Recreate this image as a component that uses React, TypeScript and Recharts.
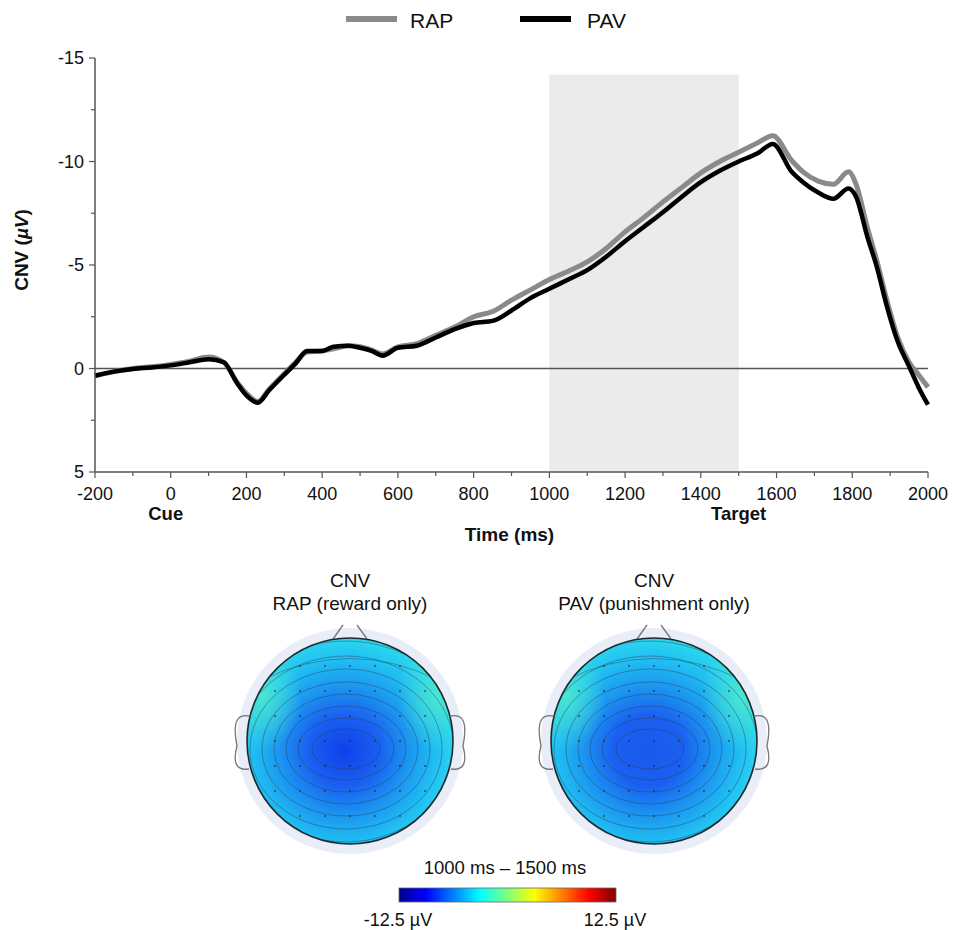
import { LineChart, Line, XAxis, YAxis, ReferenceArea, ReferenceLine } from "recharts"

// Grand-average CNV waveforms (µV), negative up
const timeMs = [
  -200, -150, -100, -50, 0, 50, 100, 140, 175, 200, 230, 260, 300, 330, 360, 400, 430, 470, 500, 530, 560, 600,
  650, 700, 750, 800, 850, 900, 950, 1000, 1050, 1100, 1150, 1200, 1250, 1300, 1350, 1400, 1450, 1500, 1550,
  1590, 1640, 1670, 1710, 1750, 1790, 1810, 1840, 1865, 1890, 1920, 1950, 1975, 2000,
]
const rapValues = [
  0.35, 0.15, 0.0, -0.08, -0.2, -0.35, -0.55, -0.3, 0.65, 1.2, 1.6, 1.0, 0.25, -0.3, -0.8, -0.85, -0.95, -1.1,
  -1.05, -0.9, -0.7, -1.05, -1.2, -1.6, -2.0, -2.5, -2.75, -3.3, -3.8, -4.3, -4.7, -5.15, -5.8, -6.6, -7.3,
  -8.05, -8.75, -9.45, -10.0, -10.45, -10.9, -11.25, -10.05, -9.5, -9.05, -8.9, -9.5, -8.9, -6.8, -5.2, -3.4,
  -1.5, -0.3, 0.3, 0.9,
]
const pavValues = [
  0.35, 0.15, 0.02, -0.05, -0.15, -0.3, -0.45, -0.3, 0.7, 1.3, 1.65, 1.05, 0.3, -0.25, -0.85, -0.85, -1.05,
  -1.1, -1.0, -0.85, -0.62, -1.0, -1.1, -1.5, -1.9, -2.2, -2.3, -2.8, -3.4, -3.85, -4.3, -4.75, -5.4, -6.15,
  -6.85, -7.55, -8.3, -9.0, -9.55, -10.0, -10.4, -10.85, -9.5, -9.0, -8.5, -8.2, -8.7, -8.3, -6.35, -4.9, -3.1,
  -1.3, -0.1, 0.9, 1.75,
]

const seriesKeys = ["rap", "pav"]
const seriesNames = ["RAP", "PAV"]
const seriesColors = ["#8a8a8a", "#000000"]

const xTicks = [
  -200, -100, 0, 100, 200, 300, 400, 500, 600, 700, 800, 900, 1000, 1100, 1200, 1300, 1400, 1500, 1600, 1700,
  1800, 1900, 2000,
]
const yTicks = [-15, -12.5, -10, -7.5, -5, -2.5, 0, 2.5, 5]
const eventTimes = [0, 1500]
const eventNames = ["Cue", "Target"]

// analysis window used for the maps
const windowStart = 1000
const windowEnd = 1500

const topoTitles = ["RAP (reward only)", "PAV (punishment only)"]
const colorbarLabels = ["-12.5 µV", "12.5 µV"]

const FONT = '"Liberation Sans", Arial, Helvetica, sans-serif'
const AXIS = "#555"

const data = timeMs.map((t, i) => ({ t, rap: rapValues[i], pav: pavValues[i] }))

function XTick({ x, y, payload }: any) {
  const v = payload.value
  const major = v % 200 === 0
  const ev = eventTimes.indexOf(v)
  return (
    <g>
      <line x1={x} x2={x} y1={y} y2={y + (major ? 6 : 4)} stroke={AXIS} strokeWidth={1.2} />
      {major && (
        <text x={x} y={y + 28} textAnchor="middle" fontSize={18} fontFamily={FONT} fill="#111">
          {v}
        </text>
      )}
      {ev >= 0 && (
        <text x={x + (ev === 0 ? -5 : 0)} y={y + 48} textAnchor="middle" fontSize={18.5} fontWeight="bold" fontFamily={FONT} fill="#111">
          {eventNames[ev]}
        </text>
      )}
    </g>
  )
}

function YTick({ x, y, payload }: any) {
  const v = payload.value
  const major = v % 5 === 0
  return (
    <g>
      <line x1={x - (major ? 6 : 4)} x2={x} y1={y} y2={y} stroke={AXIS} strokeWidth={1.2} />
      {major && (
        <text x={x - 11} y={y + 6} textAnchor="end" fontSize={18} fontFamily={FONT} fill="#111">
          {v}
        </text>
      )}
    </g>
  )
}

function Topomap({ cx, cy, id, core }: { cx: number; cy: number; id: string; core: string }) {
  const r = 103
  const rings = [
    [34, 20],
    [48, 31],
    [60, 43],
    [72, 55],
    [84, 67],
    [96, 80],
    [108, 93],
    [122, 108],
  ]
  const dots: [number, number][] = []
  for (let gx = -4; gx <= 4; gx++) {
    for (let gy = -4; gy <= 4; gy++) {
      const dx = gx * 25
      const dy = gy * 25
      if (Math.hypot(dx, dy) < 100) dots.push([cx + dx, cy + dy])
    }
  }
  return (
    <g>
      <defs>
        <radialGradient id={`fill-${id}`} gradientUnits="userSpaceOnUse" cx={cx - 6} cy={cy + 10} r={118}>
          <stop offset="0" stopColor={core} />
          <stop offset="0.3" stopColor="#1a60f0" />
          <stop offset="0.55" stopColor="#1c96f0" />
          <stop offset="0.78" stopColor="#20bff2" />
          <stop offset="0.95" stopColor="#2bd6ee" />
          <stop offset="1" stopColor="#40e2dc" />
        </radialGradient>
        <radialGradient id={`side-${id}`}>
          <stop offset="0" stopColor="#4de8cf" stopOpacity={0.9} />
          <stop offset="1" stopColor="#4de8cf" stopOpacity={0} />
        </radialGradient>
        <clipPath id={`clip-${id}`}>
          <circle cx={cx} cy={cy} r={r} />
        </clipPath>
      </defs>
      <circle cx={cx} cy={cy} r={113} fill="#e9edf8" />
      <path
        d={`M${cx - r + 2},${cy - 25} C${cx - r - 12},${cy - 28} ${cx - r - 14},${cy - 15} ${cx - r - 10},${cy + 5} C${cx - r - 14},${cy + 20} ${cx - r - 12},${cy + 30} ${cx - r + 2},${cy + 28}`}
        fill="none"
        stroke="#777"
        strokeWidth={1.3}
      />
      <path
        d={`M${cx + r - 2},${cy - 25} C${cx + r + 12},${cy - 28} ${cx + r + 14},${cy - 15} ${cx + r + 10},${cy + 5} C${cx + r + 14},${cy + 20} ${cx + r + 12},${cy + 30} ${cx + r - 2},${cy + 28}`}
        fill="none"
        stroke="#777"
        strokeWidth={1.3}
      />
      <line x1={cx - 17} y1={cy - r + 1} x2={cx - 7} y2={cy - r - 13} stroke="#777" strokeWidth={1.3} />
      <line x1={cx + 17} y1={cy - r + 1} x2={cx + 7} y2={cy - r - 13} stroke="#777" strokeWidth={1.3} />
      <g clipPath={`url(#clip-${id})`}>
        <circle cx={cx} cy={cy} r={r} fill={`url(#fill-${id})`} />
        <ellipse cx={cx - 88} cy={cy - 45} rx={40} ry={55} fill={`url(#side-${id})`} />
        <ellipse cx={cx + 88} cy={cy - 45} rx={40} ry={55} fill={`url(#side-${id})`} />
        {rings.map(([rx, ry], i) => (
          <ellipse key={i} cx={cx - 4} cy={cy + 8} rx={rx} ry={ry} fill="none" stroke="#2a3f5a" strokeOpacity={0.55} strokeWidth={0.8} />
        ))}
        <path
          d={`M${cx - 90},${cy - 60} Q${cx},${cy - 105} ${cx + 90},${cy - 60}`}
          fill="none"
          stroke="#2a3f5a"
          strokeOpacity={0.5}
          strokeWidth={0.8}
        />
        {dots.map(([dx, dy], i) => (
          <circle key={i} cx={dx} cy={dy} r={1} fill="#223" fillOpacity={0.7} />
        ))}
      </g>
      <circle cx={cx} cy={cy} r={r} fill="none" stroke="#1e2a2e" strokeWidth={1.6} />
    </g>
  )
}

export default function App() {
  const topoCenters = [350, 654]
  return (
    <div style={{ position: "absolute", left: 0, top: 0, width: 954, height: 930, background: "#fff", fontFamily: FONT }}>
      <LineChart width={954} height={560} data={data} margin={{ top: 58, right: 26, bottom: 28, left: 15 }}>
        <ReferenceArea x1={windowStart} x2={windowEnd} y1={-14.2} y2={5} fill="#ebebeb" fillOpacity={1} stroke="none" ifOverflow="visible" />
        <XAxis
          dataKey="t"
          type="number"
          domain={[-200, 2000]}
          ticks={xTicks}
          interval={0}
          tick={<XTick />}
          tickLine={false}
          tickSize={0}
          tickMargin={0}
          height={60}
          axisLine={{ stroke: AXIS, strokeWidth: 1.5 }}
          label={{
            content: ({ viewBox }: any) => (
              <text
                x={viewBox.x + viewBox.width / 2 - 2}
                y={viewBox.y + 69}
                textAnchor="middle"
                fontSize={19}
                fontWeight="bold"
                fontFamily={FONT}
                fill="#111"
              >
                Time (ms)
              </text>
            ),
          }}
        />
        <YAxis
          type="number"
          domain={[-15, 5]}
          reversed
          ticks={yTicks}
          interval={0}
          tick={<YTick />}
          tickLine={false}
          tickSize={0}
          tickMargin={0}
          width={80}
          axisLine={{ stroke: AXIS, strokeWidth: 1.5 }}
          label={{
            content: ({ viewBox }: any) => {
              const lx = viewBox.x + 13
              const ly = viewBox.y + viewBox.height / 2 - 15
              return (
                <text
                  x={lx}
                  y={ly}
                  transform={`rotate(-90 ${lx} ${ly})`}
                  textAnchor="middle"
                  fontSize={19}
                  fontWeight="bold"
                  fontFamily={FONT}
                  fill="#111"
                >
                  CNV (<tspan fontStyle="italic">µV</tspan>)
                </text>
              )
            },
          }}
        />
        <ReferenceLine y={0} stroke={AXIS} strokeWidth={1.3} />
        {seriesKeys.map((k, i) => (
          <Line
            key={k}
            dataKey={k}
            name={seriesNames[i]}
            type="monotone"
            stroke={seriesColors[i]}
            strokeWidth={i === 0 ? 5 : 4.5}
            dot={false}
            activeDot={false}
            isAnimationActive={false}
          />
        ))}
      </LineChart>

      <svg width={954} height={930} style={{ position: "absolute", left: 0, top: 0, pointerEvents: "none" }}>
        <defs>
          <linearGradient id="jet" x1="0" x2="1" y1="0" y2="0">
            <stop offset="0" stopColor="#00008f" />
            <stop offset="0.125" stopColor="#0000ff" />
            <stop offset="0.375" stopColor="#00ffff" />
            <stop offset="0.625" stopColor="#ffff00" />
            <stop offset="0.875" stopColor="#ff0000" />
            <stop offset="1" stopColor="#800000" />
          </linearGradient>
        </defs>

        {/* legend */}
        {seriesNames.map((name, i) => (
          <g key={name}>
            <line x1={346 + i * 174} x2={397 + i * 174} y1={19} y2={19} stroke={seriesColors[i]} strokeWidth={6} />
            <text x={410 + i * 177} y={28} fontSize={21} fontFamily={FONT} fill="#111">
              {name}
            </text>
          </g>
        ))}

        {/* scalp maps */}
        {topoTitles.map((title, i) => (
          <g key={title}>
            <text x={topoCenters[i]} y={587} textAnchor="middle" fontSize={19} fontFamily={FONT} fill="#111">
              CNV
            </text>
            <text x={topoCenters[i]} y={610} textAnchor="middle" fontSize={19} fontFamily={FONT} fill="#111">
              {title}
            </text>
            <Topomap cx={topoCenters[i]} cy={741} id={`m${i}`} core={i === 0 ? "#1040ea" : "#1a58ec"} />
          </g>
        ))}

        {/* colour scale */}
        <text x={505} y={874} textAnchor="middle" fontSize={18.5} fontFamily={FONT} fill="#111">
          {`${windowStart} ms – ${windowEnd} ms`}
        </text>
        <rect x={399} y={888} width={217} height={14} fill="url(#jet)" stroke="#666" strokeWidth={0.8} />
        <text x={398} y={926} textAnchor="middle" fontSize={18} fontFamily={FONT} fill="#111">
          {colorbarLabels[0]}
        </text>
        <text x={615} y={926} textAnchor="middle" fontSize={18} fontFamily={FONT} fill="#111">
          {colorbarLabels[1]}
        </text>
      </svg>
    </div>
  )
}
